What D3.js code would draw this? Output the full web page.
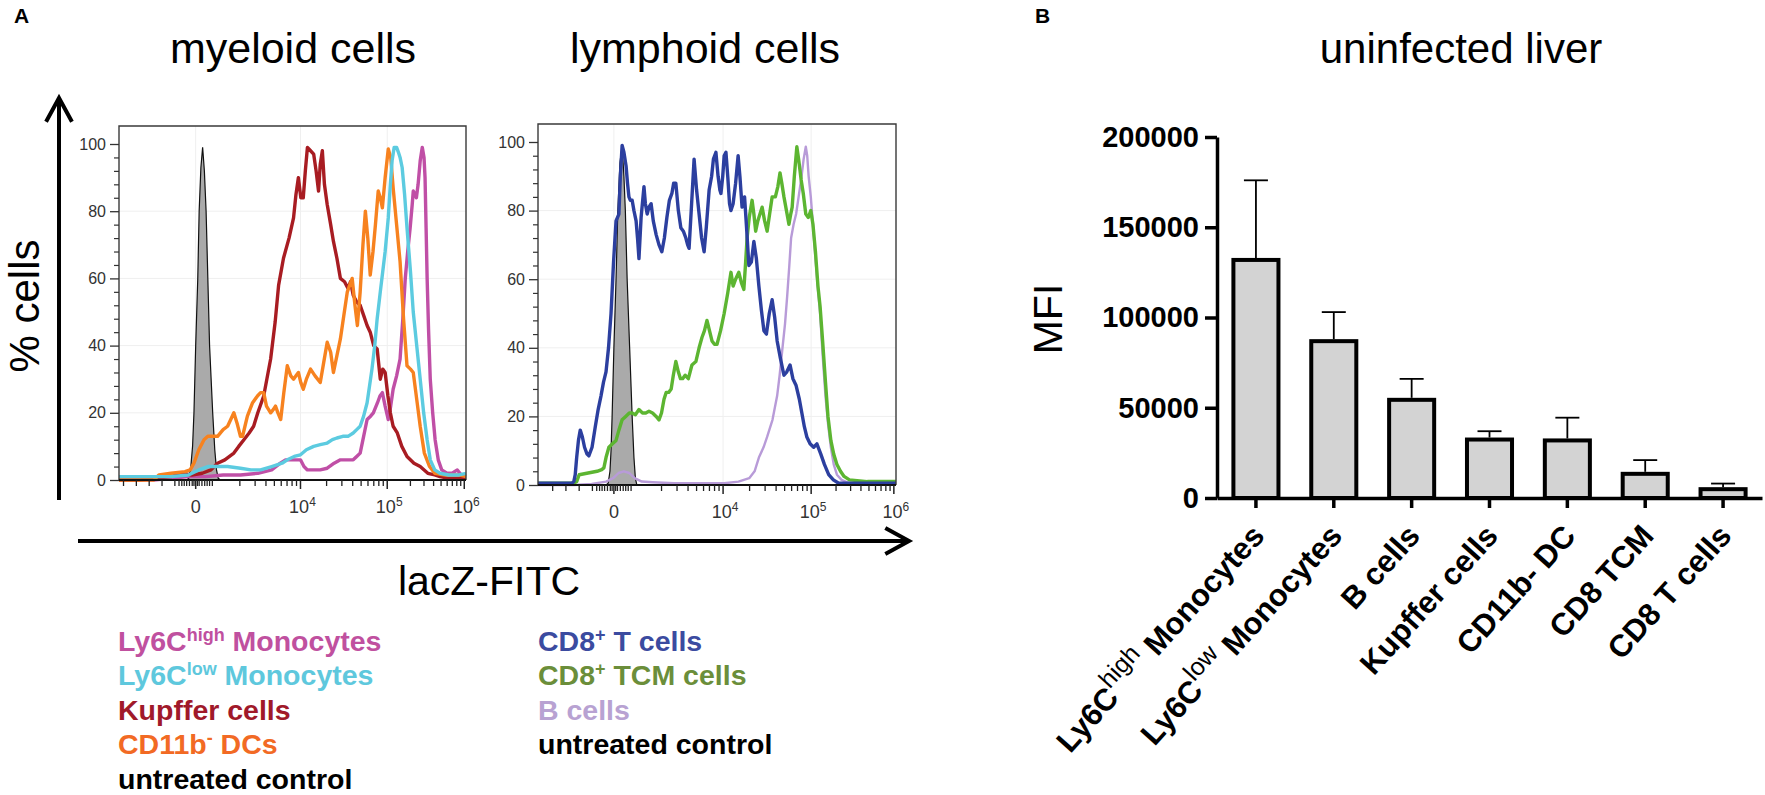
<!DOCTYPE html>
<html>
<head>
<meta charset="utf-8">
<script src="https://cdn.jsdelivr.net/npm/d3@7"></script>
<style>
  body { margin: 0; background: #fff; }
  svg { display: block; }
</style>
</head>
<body>
<div id="chart"></div>
<script>
const FONT = "'Liberation Sans', Arial, Helvetica, sans-serif";

// ---- panel A: histogram curves, [channel (0-1000), % of max] ----
const myeloidControl = [[195,0],[201,0.5],[207,4],[212,10],[216,20],[221,40],[227,60],[231,80],[236,93],[241,99],[246,92],[251,80],[256,60],[261,40],[270,20],[276,9],[281,3],[286,0.5],[292,0]];
const ly6cHigh = [[0,0],[100,0],[150,0.5],[200,1],[250,1],[300,1.5],[350,1.5],[400,2],[440,3],[465,5],[480,6],[494,6],[510,6],[523,6],[533,4],[543,3],[560,3],[580,3],[600,3.5],[620,5],[638,6],[660,6],[675,6],[685,7],[695,8],[705,13],[715,18],[725,19],[733,20],[745,23],[752,25],[759,26],[767,22],[776,18],[783,22],[790,27],[800,31],[810,36],[818,48],[825,60],[832,68],[839,75],[845,82],[848,86],[853,85],[857,84],[862,88],[868,95],[874,99],[879,96],[882,90],[885,75],[888,60],[892,45],[897,30],[904,20],[911,12],[920,6],[930,3],[945,2],[960,2],[975,3],[990,1],[1000,1]];
const kupffer = [[0,0],[60,0],[100,0.5],[150,1],[180,2],[210,1.5],[240,2],[265,3],[284,5],[305,6],[331,8],[345,10],[360,12],[375,14],[388,16],[400,20],[417,25],[437,36],[450,47],[460,58],[474,66],[490,72],[503,78],[510,85],[517,90],[524,84],[531,84],[537,92],[543,99],[552,98],[561,97],[568,92],[575,86],[580,94],[586,98],[592,88],[600,82],[610,76],[618,71],[628,66],[638,60],[650,59],[660,57],[667,59],[675,55],[685,53],[695,52],[705,49],[715,46],[724,44],[734,40],[744,39],[753,30],[760,33],[767,32],[775,25],[782,20],[790,16],[802,14],[815,10],[830,7],[850,5],[868,4],[890,2],[910,1.5],[925,1],[950,0.5],[1000,0.5]];
const cd11bDC = [[0,0],[100,0],[115,1.5],[150,2],[190,2.5],[205,3],[216,5],[230,9],[245,12],[256,13],[270,13],[284,13],[300,15],[313,16],[322,18],[331,20],[340,17],[350,13],[356,13],[363,16],[370,19],[385,23],[399,25],[408,26],[417,26],[425,22],[437,20],[445,21],[451,22],[458,20],[466,18],[475,26],[485,34],[495,31],[503,30],[510,31],[517,32],[524,29],[531,27],[540,30],[552,33],[565,31],[580,29],[590,35],[600,41],[610,38],[618,32],[628,37],[638,42],[648,49],[658,56],[665,58],[672,60],[680,52],[687,46],[695,56],[703,70],[710,80],[717,72],[724,61],[732,68],[739,76],[747,86],[753,84],[759,81],[767,90],[776,98.5],[783,96],[790,87],[800,76],[810,65],[820,48],[830,34],[840,33],[848,32],[858,24],[868,16],[880,8],[895,4],[910,2],[940,1.5],[980,1.5],[1000,1]];
const ly6cLow = [[0,1],[100,1],[150,1],[200,1.5],[230,3],[256,4],[285,4],[313,4],[350,3.5],[380,3],[408,3],[440,4],[470,5],[485,6],[505,7],[523,7.5],[540,9],[561,10],[580,10.5],[600,11],[615,12],[628,12.5],[645,13],[660,13],[675,14],[685,15],[695,16],[705,19],[715,23],[722,28],[729,33],[737,40],[744,48],[753,56],[760,62],[767,68],[776,78],[782,88],[787,95],[793,99],[800,99],[805,97.6],[810,96],[816,93],[823,85],[830,75],[840,62],[848,50],[858,40],[868,30],[878,20],[888,12],[897,6],[910,3],[925,2],[950,1.5],[980,1.5],[1000,2]];

const lymphoidControl = [[190,0],[196,0.5],[201,4],[204,10],[207,20],[212,40],[218,60],[223,80],[229,94],[235,99],[240,90],[244,80],[249,60],[256,40],[263,20],[268,8],[272,2],[276,0]];
const bCells = [[0,0],[100,0],[150,0.3],[190,1],[210,2],[225,3.5],[240,4],[255,3.5],[270,2],[290,1],[320,0.8],[380,0.5],[450,0.5],[520,0.5],[560,1],[590,2],[605,4],[617,8],[630,11],[640,14],[655,19],[668,26],[675,32],[682,39],[690,47],[696,55],[702,64],[707,72],[714,76],[721,79],[728,84],[735,89],[742,95],[748,98.6],[752,96],[756,90],[762,84],[768,76],[775,66],[782,57],[788,50],[795,38],[803,26],[810,18],[818,11],[826,6],[835,3],[848,1.5],[870,0.5],[1000,0.5]];
const cd8Tcm = [[0,0.5],[100,0.5],[108,1],[115,3],[140,3.5],[165,4],[178,4.5],[184,5],[190,8],[198,11],[208,12],[218,13],[226,16],[235,19],[245,20],[255,21],[263,21],[272,20.5],[282,22],[292,21],[301,21],[310,21.5],[320,21],[330,20],[338,19],[345,21],[352,25],[358,27],[365,27],[372,28],[378,32],[385,36],[392,33],[398,31],[404,31],[411,32],[420,31],[425,33],[430,35],[441,36],[450,40],[458,43],[465,45],[472,48],[479,45],[486,42],[493,41],[500,41],[510,45],[520,50],[530,56],[539,62],[545,58],[552,60],[561,62],[568,59],[575,57],[580,65],[584,72],[590,78],[598,83],[603,79],[608,74],[614,77],[620,79],[626,81],[633,77],[640,74],[647,79],[654,84],[663,84],[670,87],[676,91],[681,88],[687,84],[694,80],[701,76],[706,79],[710,81],[716,90],[723,98.6],[728,95],[735,89],[741,85],[748,79],[755,78],[762,80],[768,76],[775,68],[782,58],[788,52],[795,42],[803,30],[810,20],[818,13],[826,9],[835,6],[845,4],[855,2.5],[870,1.5],[920,1],[1000,1]];
const cd8T = [[0,0.5],[60,0.5],[95,0.5],[100,1],[104,3],[108,8],[113,13],[118,16],[124,14],[130,11],[137,9],[142,8.5],[151,11],[160,17],[168,22],[176,26],[183,30],[190,33],[197,40],[204,50],[211,65],[218,77],[226,79],[230,90],[235,99],[240,97],[246,93],[250,88],[254,84],[258,83],[263,83],[268,80],[274,77],[278,72],[282,66],[288,78],[296,87],[300,82],[305,79],[310,81],[316,82],[322,77],[330,73],[338,70],[346,68],[353,72],[360,78],[367,83],[374,85],[379,88],[385,88],[392,80],[399,75],[406,74],[413,72],[418,70],[422,69],[428,80],[436,95],[443,86],[450,79],[457,72],[464,68],[470,75],[478,86],[485,90],[490,95],[497,97],[503,90],[508,86],[511,85],[516,90],[520,96],[525,97],[530,90],[535,82],[539,80],[545,82],[552,88],[559,96],[564,90],[570,81],[577,84],[582,76],[589,64],[596,65],[603,71],[610,66],[617,58],[624,51],[631,45],[638,44],[646,50],[654,54],[661,49],[668,42],[677,37],[687,32],[695,33],[704,35],[712,31],[721,29],[730,25],[737,21],[744,17],[751,14],[760,12],[770,11],[779,12],[790,9],[800,6],[812,3],[825,1.5],[840,0.5],[1000,0.5]];

// tick positions of 0, 10^4, 10^5, 10^6 in channel units
const myeloidTicks = [{c: 221, exp: null}, {c: 523, exp: 4}, {c: 773, exp: 5}, {c: 995, exp: 6}];
const lymphoidTicks = [{c: 212, exp: null}, {c: 517, exp: 4}, {c: 763, exp: 5}, {c: 994, exp: 6}];
const pctTicks = [0, 20, 40, 60, 80, 100];

// legend entries
const myeloidLegend = ["Ly6C^high Monocytes", "Ly6C^low Monocytes", "Kupffer cells", "CD11b^- DCs", "untreated control"];
const myeloidLegendColors = ["#c0509f", "#5ec8dd", "#a0192a", "#f26a24", "#000000"];
const lymphoidLegend = ["CD8^+ T cells", "CD8^+ TCM cells", "B cells", "untreated control"];
const lymphoidLegendColors = ["#3b4ba0", "#6b8e3a", "#b8a2d2", "#000000"];

// ---- panel B: bar chart ----
const barCategories = ["Ly6C^high Monocytes", "Ly6C^low Monocytes", "B cells", "Kupffer cells", "CD11b- DC", "CD8 TCM", "CD8 T cells"];
const barMeans = [133000, 88000, 55500, 33500, 33000, 14500, 6000];
const barSEM = [43000, 15000, 10500, 3500, 11500, 6500, 2000];
const mfiTicks = [0, 50000, 100000, 150000, 200000];

const svg = d3.select("#chart").append("svg")
    .attr("width", 1765)
    .attr("height", 795)
    .style("font-family", FONT);

// rich text with ^superscripts
function richText(sel, str, supSize, supWeight) {
    str.split(/(\^\S+)/).filter(s => s.length).forEach(part => {
        if (part[0] === "^") {
            sel.append("tspan")
                .attr("font-size", supSize)
                .attr("font-weight", supWeight)
                .attr("baseline-shift", "super")
                .text(part.slice(1));
        } else {
            sel.append("tspan").text(part);
        }
    });
}

// panel letters
svg.append("text").attr("x", 14).attr("y", 23)
    .style("font-size", "21px").style("font-weight", "bold").text("A");
svg.append("text").attr("x", 1035).attr("y", 23)
    .style("font-size", "21px").style("font-weight", "bold").text("B");

// titles
[["myeloid cells", 293, 43], ["lymphoid cells", 705, 43], ["uninfected liver", 1461, 42]].forEach(([t, x, fs]) => {
    svg.append("text")
        .attr("x", x).attr("y", 63)
        .attr("text-anchor", "middle")
        .style("font-size", fs + "px")
        .text(t);
});

const histPanels = [
    {left: 119, right: 466, top: 126, y0: 480, y100: 144, ticks: myeloidTicks,
     control: myeloidControl,
     series: [[ly6cHigh, "#c04fa6", 3.4], [kupffer, "#a81c22", 3.4], [cd11bDC, "#f7821f", 3.4], [ly6cLow, "#5ccbe0", 3.4]]},
    {left: 538, right: 896, top: 124, y0: 485, y100: 142, ticks: lymphoidTicks,
     control: lymphoidControl,
     series: [[bCells, "#b89bd8", 2.4], [cd8Tcm, "#5cb531", 3.4], [cd8T, "#2c3f9f", 3.4]]}
];

histPanels.forEach(p => drawHistogram(p));

function drawHistogram(p) {
    const x = d3.scaleLinear().domain([0, 1000]).range([p.left, p.right]);
    const y = d3.scaleLinear().domain([0, 100]).range([p.y0, p.y100]);
    const g = svg.append("g");

    // faint grid
    g.selectAll(".hgrid").data(pctTicks.slice(1, 5)).enter().append("line")
        .attr("x1", p.left).attr("x2", p.right)
        .attr("y1", d => y(d)).attr("y2", d => y(d))
        .attr("stroke", "#efefef").attr("stroke-width", 1);
    g.selectAll(".vgrid").data(p.ticks.slice(0, 3)).enter().append("line")
        .attr("x1", d => x(d.c)).attr("x2", d => x(d.c))
        .attr("y1", p.top).attr("y2", p.y0)
        .attr("stroke", "#efefef").attr("stroke-width", 1);

    // control histogram, filled
    const area = d3.area().x(d => x(d[0])).y0(y(0)).y1(d => y(d[1]));
    g.append("path").datum(p.control)
        .attr("d", area)
        .attr("fill", "#aaaaaa")
        .attr("stroke", "#111").attr("stroke-width", 1.2);

    const line = d3.line().x(d => x(d[0])).y(d => y(d[1]));
    p.series.forEach(([data, color, w]) => {
        g.append("path").datum(data)
            .attr("d", line)
            .attr("fill", "none")
            .attr("stroke", color)
            .attr("stroke-width", w)
            .attr("stroke-linejoin", "round");
    });

    // frame
    g.append("path")
        .attr("d", `M${p.left},${p.y0}V${p.top}H${p.right}V${p.y0}`)
        .attr("fill", "none").attr("stroke", "#3a3a3a").attr("stroke-width", 1.4);
    g.append("line")
        .attr("x1", p.left).attr("x2", p.right)
        .attr("y1", p.y0).attr("y2", p.y0)
        .attr("stroke", "#111").attr("stroke-width", 2);

    // y axis
    const yAxis = g.append("g")
        .attr("transform", `translate(${p.left},0)`)
        .call(d3.axisLeft(y).tickValues(pctTicks).tickSize(9).tickPadding(4));
    yAxis.select(".domain").remove();
    yAxis.selectAll("text").style("font-size", "16px").style("font-family", FONT).attr("fill", "#333");
    yAxis.selectAll("line").attr("stroke", "#333").attr("stroke-width", 1.3);
    const yMinor = g.append("g")
        .attr("transform", `translate(${p.left},0)`)
        .call(d3.axisLeft(y).tickValues(d3.range(0, 101, 4).filter(v => v % 20)).tickSize(5).tickFormat(""));
    yMinor.select(".domain").remove();
    yMinor.selectAll("line").attr("stroke", "#333").attr("stroke-width", 1.2);

    // x axis: biexponential-style ticks
    const c0 = p.ticks[0].c, c4 = p.ticks[1].c, c5 = p.ticks[2].c, c6 = p.ticks[3].c;
    const minor = [];
    const decades = [[c4 - (c5 - c4), c5 - c4], [c4, c5 - c4], [c5, c6 - c5]];
    decades.forEach(([start, w]) => {
        d3.range(2, 10).forEach(m => {
            const c = start + w * Math.log10(m);
            if (c > c0 + 15 && c < 1000) minor.push(c);
        });
    });
    for (let c = c0 - 60; c > 5; c -= 37) minor.push(c);
    [-48, -40, -33, -26, -18, -10, -5, 5, 10, 18, 26, 33, 40, 48].forEach(o => minor.push(c0 + o));

    g.selectAll(".xminor").data(minor).enter().append("line")
        .attr("x1", d => x(d)).attr("x2", d => x(d))
        .attr("y1", p.y0).attr("y2", p.y0 + 6)
        .attr("stroke", "#222").attr("stroke-width", 1.3);
    g.selectAll(".xmajor").data(p.ticks).enter().append("line")
        .attr("x1", d => x(d.c)).attr("x2", d => x(d.c))
        .attr("y1", p.y0).attr("y2", p.y0 + 9)
        .attr("stroke", "#222").attr("stroke-width", 1.5);

    p.ticks.forEach(t => {
        const lbl = g.append("text")
            .attr("x", x(t.c) + (t.exp ? 2 : 0))
            .attr("y", p.y0 + 33)
            .attr("text-anchor", "middle")
            .attr("fill", "#333")
            .style("font-size", "18px");
        if (t.exp) {
            lbl.append("tspan").text("10");
            lbl.append("tspan").attr("font-size", "12px").attr("baseline-shift", "super").text(t.exp);
        } else {
            lbl.text("0");
        }
    });
}

// axis arrows
function arrow(x1, y1, x2, y2) {
    const ang = Math.atan2(y2 - y1, x2 - x1);
    const len = 27, spread = 0.5;
    const a1 = [x2 - len * Math.cos(ang - spread), y2 - len * Math.sin(ang - spread)];
    const a2 = [x2 - len * Math.cos(ang + spread), y2 - len * Math.sin(ang + spread)];
    svg.append("line").attr("x1", x1).attr("y1", y1).attr("x2", x2).attr("y2", y2)
        .attr("stroke", "#000").attr("stroke-width", 4);
    svg.append("path")
        .attr("d", `M${a1[0]},${a1[1]}L${x2},${y2}L${a2[0]},${a2[1]}`)
        .attr("fill", "none").attr("stroke", "#000").attr("stroke-width", 4)
        .attr("stroke-linejoin", "miter");
}
arrow(59, 500, 59, 98);
arrow(78, 541, 909, 541);

svg.append("text")
    .attr("transform", "translate(39,306) rotate(-90)")
    .attr("text-anchor", "middle")
    .style("font-size", "42px")
    .text("% cells");

svg.append("text")
    .attr("x", 489).attr("y", 595)
    .attr("text-anchor", "middle")
    .style("font-size", "41px")
    .text("lacZ-FITC");

// legends
function drawLegend(items, colors, x0) {
    items.forEach((t, i) => {
        const txt = svg.append("text")
            .attr("x", x0).attr("y", 651 + i * 34.4)
            .attr("fill", colors[i])
            .style("font-size", "28.5px")
            .style("font-weight", "bold");
        richText(txt, t, "18px", "bold");
    });
}
drawLegend(myeloidLegend, myeloidLegendColors, 118);
drawLegend(lymphoidLegend, lymphoidLegendColors, 538);

// ---- bar chart ----
const xb = d3.scaleBand().domain(barCategories).range([1217, 1762]).paddingInner(0.37).paddingOuter(0.185);
const yb = d3.scaleLinear().domain([0, 200000]).range([498, 137]);

const gb = svg.append("g");

gb.selectAll(".err").data(barCategories).enter().append("line")
    .attr("x1", d => xb(d) + xb.bandwidth() / 2).attr("x2", d => xb(d) + xb.bandwidth() / 2)
    .attr("y1", (d, i) => yb(barMeans[i])).attr("y2", (d, i) => yb(barMeans[i] + barSEM[i]))
    .attr("stroke", "#000").attr("stroke-width", 1.8);
gb.selectAll(".cap").data(barCategories).enter().append("line")
    .attr("x1", d => xb(d) + xb.bandwidth() / 2 - 12).attr("x2", d => xb(d) + xb.bandwidth() / 2 + 12)
    .attr("y1", (d, i) => yb(barMeans[i] + barSEM[i])).attr("y2", (d, i) => yb(barMeans[i] + barSEM[i]))
    .attr("stroke", "#000").attr("stroke-width", 1.8);

gb.selectAll(".bar").data(barCategories).enter().append("rect")
    .attr("x", d => xb(d) + 2)
    .attr("width", xb.bandwidth() - 4)
    .attr("y", (d, i) => yb(barMeans[i]) + 2)
    .attr("height", (d, i) => yb(0) - yb(barMeans[i]) - 2)
    .attr("fill", "#d3d3d3")
    .attr("stroke", "#000")
    .attr("stroke-width", 4);

const yAxisB = gb.append("g")
    .attr("transform", "translate(1217,0)")
    .call(d3.axisLeft(yb).tickValues(mfiTicks).tickFormat(d3.format("d")).tickSize(12).tickSizeOuter(0).tickPadding(6));
yAxisB.selectAll("text").style("font-size", "29px").style("font-weight", "bold").style("font-family", FONT).attr("fill", "#000");
yAxisB.selectAll("line, path").attr("stroke", "#000").attr("stroke-width", 3.5);

const xAxisB = gb.append("g")
    .attr("transform", "translate(0,498)")
    .call(d3.axisBottom(xb).tickSize(10).tickSizeOuter(0).tickFormat(""));
xAxisB.selectAll("line, path").attr("stroke", "#000").attr("stroke-width", 3.5);

barCategories.forEach(c => {
    const txt = gb.append("text")
        .attr("transform", `translate(${xb(c) + xb.bandwidth() / 2 + 10},537) rotate(-48)`)
        .attr("text-anchor", "end")
        .style("font-size", "31px")
        .style("font-weight", "bold");
    richText(txt, c, "25px", "normal");
});

svg.append("text")
    .attr("transform", "translate(1062,319) rotate(-90)")
    .attr("text-anchor", "middle")
    .style("font-size", "41px")
    .text("MFI");
</script>
</body>
</html>
